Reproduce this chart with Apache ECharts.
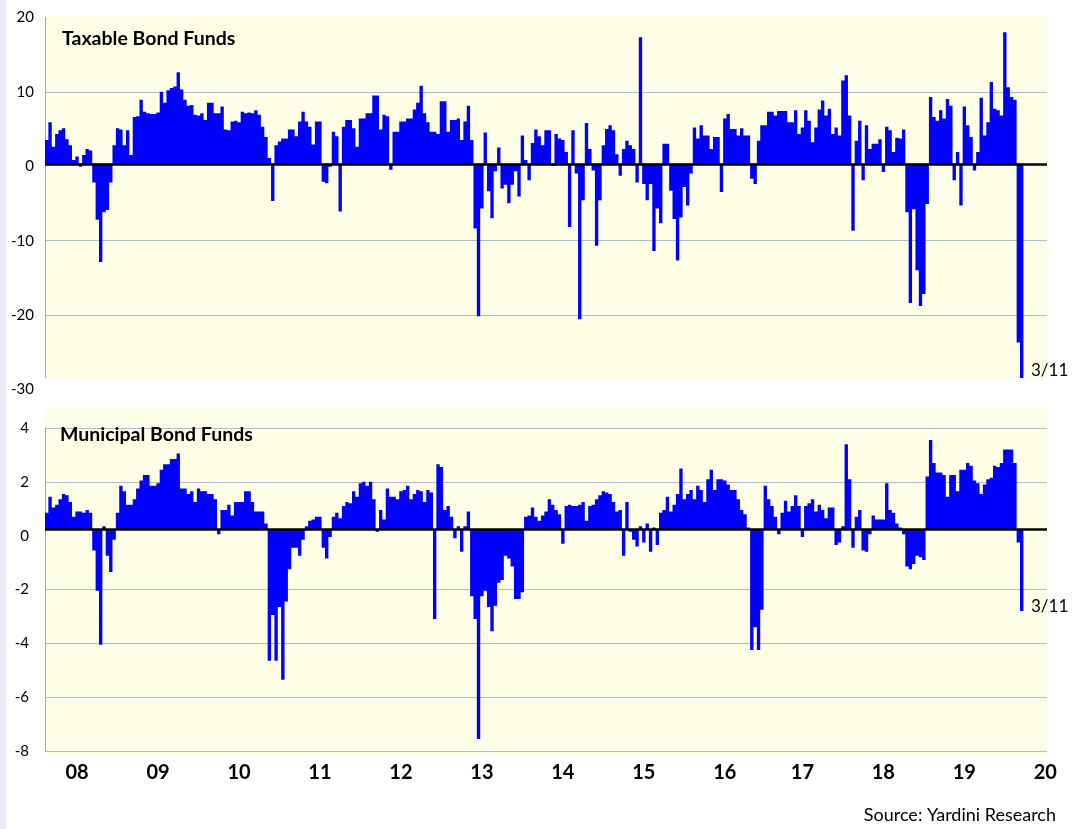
<!DOCTYPE html>
<html>
<head>
<meta charset="utf-8">
<title>Bond Fund Flows</title>
<script src="https://cdn.jsdelivr.net/npm/echarts@6/dist/echarts.min.js"></script>
<style>
  html, body { margin: 0; padding: 0; background: #fff; }
  #main { width: 1081px; height: 829px; }
</style>
</head>
<body>
<div id="main"></div>
<script>
// semi-monthly periods, Feb 2008 .. Mar 11 2020 (last slot = week of 3/11)
const periodStart = [2008, 2, 15];
const periodCount = 297; // data + empty room to the right edge

const yearTicks = ['08', '09', '10', '11', '12', '13', '14', '15', '16', '17', '18', '19', '20'];
const tickDates = ['2008-07-01', '2009-07-01', '2010-07-01', '2011-07-01', '2012-07-01', '2013-07-01',
    '2014-07-01', '2015-07-01', '2016-07-01', '2017-06-15', '2018-06-15', '2019-06-15', '2020-06-15'];

const taxableTicks = [-30, -20, -10, 0, 10, 20];
const muniTicks = [-8, -6, -4, -2, 0, 2, 4];

// Taxable bond funds, billion $
const taxable = [
    // 2008
    3.2, 5.6, 2.3, 4.0, 4.5, 4.8, 3.3, 2.5, 0.5, 1.0, -0.4, 1.2, 2.0, 1.8, -2.5, -7.5, -13.2, -6.5, -6.2, -2.5, 2.5,
    // 2009
    4.8, 4.6, 2.5, 4.5, 1.2, 6.3, 6.4, 8.6, 7.0, 6.8, 6.7, 6.7, 6.9, 9.7, 8.2, 9.9, 10.2, 10.4, 12.3, 10.0, 8.6, 7.8, 7.9, 6.6,
    // 2010
    6.5, 6.8, 5.9, 8.2, 8.2, 6.8, 6.8, 7.7, 4.6, 4.5, 5.7, 5.8, 5.6, 7.0, 6.8, 6.9, 6.8, 7.2, 6.6, 5.0, 3.6, 0.8, -5.0, 2.5,
    // 2011
    3.0, 3.4, 3.4, 4.6, 4.6, 3.7, 5.7, 7.0, 5.7, 5.0, 2.6, 5.7, 5.7, -2.4, -2.6, -0.4, 4.3, 3.7, -6.4, 5.0, 5.9, 5.9, 4.8, 2.3,
    // 2012
    6.1, 6.1, 6.8, 6.8, 9.2, 9.2, 4.6, 6.6, 6.4, -0.8, 4.3, 4.3, 5.7, 5.7, 6.1, 6.1, 7.3, 8.2, 10.5, 6.8, 5.6, 4.3, 4.3, 4.0,
    // 2013
    8.4, 8.4, 4.3, 5.9, 5.9, 6.1, 3.2, 5.7, 7.8, 3.2, -8.7, -20.5, -6.0, 4.2, -3.7, -7.3, -1.0, 2.2, -3.3, -2.8, -5.3, -2.8, -1.0, -4.4,
    // 2014
    3.8, 0.5, -2.2, 2.8, 4.6, 3.7, 2.5, 4.5, 4.5, -0.3, 4.0, 3.4, 3.2, 1.6, -8.5, 4.5, -1.3, -20.9, -4.9, 5.5, 2.0, -0.9, -11.0, -4.9,
    // 2015
    2.5, 4.7, 5.2, 4.5, 1.3, -1.6, 2.0, 3.1, 2.5, 2.0, -2.5, 17.0, -2.7, -4.9, -2.7, -11.7, -6.0, -8.0, 2.7, 2.7, -3.6, -7.4, -13.0, -7.2,
    // 2016
    -3.1, -5.6, -1.3, 4.9, 3.4, 5.2, 3.8, 3.8, 2.0, 3.6, 3.6, -3.8, 6.1, 6.7, 4.7, 4.7, 3.8, 4.8, 3.8, 3.8, -2.0, -2.7, 3.1, 5.2,
    // 2017
    5.2, 7.0, 7.0, 6.5, 7.1, 7.1, 7.1, 5.6, 5.6, 7.2, 4.0, 4.9, 7.2, 5.8, 2.9, 4.9, 7.3, 8.5, 6.5, 7.4, 4.0, 4.9, 3.8, 11.2,
    // 2018
    11.9, 6.5, -9.0, 3.1, 5.8, -2.2, 5.2, 2.0, 2.7, 2.7, 3.3, -1.1, 5.0, 4.5, 1.6, 3.5, 3.4, 4.6, -6.5, -18.7, -6.1, -14.3, -19.1, -17.5,
    // 2019
    -5.4, 9.0, 6.3, 5.8, 7.2, 6.1, 8.7, 7.8, -2.2, 1.6, -5.6, 7.7, 5.2, 3.6, -0.9, 1.6, 8.9, 3.8, 5.6, 11.0, 7.4, 7.2, 6.5, 17.7,
    // 2020
    10.3, 9.0, 8.6, -24.0, -30.0
];

// Municipal bond funds, billion $
const municipal = [
    // 2008
    0.6, 1.2, 0.8, 0.9, 1.1, 1.3, 1.25, 1.0, 0.45, 0.65, 0.65, 0.6, 0.7, 0.6, -0.8, -2.3, -4.3, 0.1, -1.0, -1.6, -0.4,
    // 2009
    0.6, 1.6, 1.4, 0.9, 0.9, 1.1, 1.5, 1.8, 2.0, 2.0, 1.6, 1.6, 1.7, 2.2, 2.4, 2.4, 2.6, 2.6, 2.8, 1.5, 1.5, 1.3, 1.4, 1.0,
    // 2010
    1.5, 1.4, 1.4, 1.3, 1.3, 1.1, -0.2, 0.7, 0.7, 0.9, 0.5, 1.0, 1.0, 1.0, 1.4, 1.4, 1.0, 0.65, 0.65, 0.65, 0.2, -4.9, -3.2, -4.9,
    // 2011
    -2.9, -5.6, -2.7, -1.5, -0.7, -0.7, -1.0, -0.4, 0.1, 0.3, 0.35, 0.45, 0.45, -0.7, -1.1, -0.3, 0.45, 0.6, 0.4, 0.85, 1.0, 0.95, 1.4, 1.2,
    // 2012
    1.7, 1.75, 1.6, 1.75, 1.1, -0.1, 0.7, 0.35, 1.5, 1.2, 1.2, 1.1, 1.4, 1.45, 1.6, 1.1, 1.3, 1.45, 1.4, 1.0, 1.45, 1.35, -3.35, 2.4,
    // 2013
    2.3, 0.7, 0.85, 0.45, -0.35, 0.1, -0.85, 0.1, 0.65, -2.5, -3.35, -7.8, -2.5, -2.3, -2.9, -3.8, -2.85, -2.0, -1.9, -1.0, -1.1, -1.4, -2.6, -2.6,
    // 2014
    -2.35, 0.45, 0.5, 0.8, 0.45, 0.3, 0.5, 0.65, 1.1, 0.9, 0.7, 0.55, -0.55, 0.85, 0.9, 0.85, 0.85, 0.9, 1.0, 0.3, 0.85, 0.9, 1.1, 1.25,
    // 2015
    1.4, 1.35, 1.3, 1.0, 0.65, 0.7, -1.0, 1.0, -0.1, -0.4, -0.65, 0.1, -0.5, 0.2, -0.85, 0.05, -0.6, 0.6, 0.7, 1.2, 0.65, 0.9, 1.3, 2.25,
    // 2016
    1.1, 1.3, 1.45, 1.1, 1.6, 1.45, 1.0, 1.85, 2.2, 1.45, 1.85, 1.85, 1.8, 1.65, 1.45, 1.45, 1.1, 0.7, 0.55, 0.05, -4.5, -3.65, -4.5, -3.0,
    // 2017
    1.6, 1.1, 0.85, 0.45, -0.2, 0.6, 1.05, 0.65, 0.85, 1.25, 0.85, -0.3, 0.85, 0.95, 1.1, 0.65, 0.9, 0.7, 0.4, 0.8, 0.8, -0.6, -0.5, 0.1,
    // 2018
    3.15, 1.85, -0.7, 0.45, 0.7, -0.8, -0.85, -0.2, 0.5, 0.35, 0.35, 0.35, 1.7, 0.7, 0.6, 0.2, 0.05, -0.2, -1.4, -1.5, -1.3, -1.0, -1.05, -1.15,
    // 2019
    1.95, 3.3, 2.45, 2.1, 2.1, 2.0, 1.2, 2.0, 2.0, 1.4, 2.2, 2.2, 2.45, 2.35, 1.8, 1.7, 1.3, 1.65, 1.85, 1.9, 2.35, 2.3, 2.45, 2.95,
    // 2020
    2.95, 2.95, 2.45, -0.5, -3.05
];

const FONT = 'Lato, "Open Sans", sans-serif';
const BLUE = '#0000ff';
const GRIDLINE = '#a9c1cf';
const CREAM = '#fefee6';

function buildPeriods() {
    let out = [];
    let y = periodStart[0], m = periodStart[1], d = periodStart[2];
    while (out.length < periodCount) {
        out.push(y + '-' + String(m).padStart(2, '0') + '-' + String(d).padStart(2, '0'));
        if (d === 1) {
            d = 15;
        } else {
            d = 1;
            m = m + 1;
            if (m > 12) { m = 1; y = y + 1; }
        }
    }
    return out;
}

// zero gridline is replaced by the black baseline
function gridColors(ticks, hidden) {
    return ticks.map(function (t) {
        return hidden.indexOf(t) >= 0 ? 'rgba(0,0,0,0)' : GRIDLINE;
    });
}

function zeroLine() {
    return {
        silent: true,
        symbol: ['none', 'none'],
        label: { show: false },
        lineStyle: { color: '#000', width: 2.5, type: 'solid' },
        data: [{ yAxis: 0 }]
    };
}

function drawChart() {
    let periods = buildPeriods();
    let myChart = echarts.init(document.getElementById('main'));

    let option = {
        backgroundColor: '#fff',
        animation: false,
        textStyle: { fontFamily: FONT },
        grid: [
            { left: 45, right: 34, top: 17.5, height: 372 },
            { left: 45, right: 34, top: 428, height: 323 }
        ],
        xAxis: [
            { type: 'category', gridIndex: 0, data: periods, show: false },
            {
                type: 'category', gridIndex: 1, data: periods,
                axisLine: { show: false },
                axisTick: { show: false },
                axisLabel: {
                    interval: function (index, value) { return tickDates.indexOf(value) >= 0; },
                    formatter: function (value) {
                        let k = tickDates.indexOf(value);
                        return k >= 0 ? yearTicks[k] : '';
                    },
                    color: '#000', fontSize: 20, fontWeight: 'bold', fontFamily: FONT, margin: 12
                }
            }
        ],
        yAxis: [
            {
                type: 'value', gridIndex: 0, min: -30, max: 20, interval: 10,
                axisLine: { show: true, lineStyle: { color: '#a6a6a6', width: 1 } },
                axisTick: { show: false },
                axisLabel: { color: '#000', fontSize: 15, fontFamily: FONT, margin: 11 },
                splitLine: { show: true, lineStyle: { color: gridColors(taxableTicks, [-30, 0, 20]), width: 1 } }
            },
            // bars hang from the black baseline, which sits a bit above the 0 label
            { type: 'value', gridIndex: 0, min: -30.33, max: 19.67, show: false, splitLine: { show: false } },
            {
                type: 'value', gridIndex: 1, min: -8, max: 4, interval: 2,
                axisLine: { show: true, lineStyle: { color: '#a6a6a6', width: 1 } },
                axisTick: { show: false },
                axisLabel: { color: '#000', fontSize: 15, fontFamily: FONT, margin: 16 },
                splitLine: { show: true, lineStyle: { color: gridColors(muniTicks, [0]), width: 1 } }
            },
            { type: 'value', gridIndex: 1, min: -8.25, max: 3.75, show: false, splitLine: { show: false } }
        ],
        series: [
            {
                // large mode strokes all bars as one path, so neighbouring bars join without seams
                name: 'Taxable Bond Funds', type: 'bar', xAxisIndex: 0, yAxisIndex: 1,
                data: taxable, barCategoryGap: '0%', large: true, largeThreshold: 50,
                itemStyle: { color: BLUE },
                markLine: zeroLine()
            },
            {
                name: 'Municipal Bond Funds', type: 'bar', xAxisIndex: 1, yAxisIndex: 3,
                data: municipal, barCategoryGap: '0%', large: true, largeThreshold: 50,
                itemStyle: { color: BLUE },
                markLine: zeroLine()
            }
        ],
        graphic: [
            { type: 'rect', z: -10, shape: { x: 0, y: 0, width: 6, height: 829 }, style: { fill: '#e9edf6' } },
            { type: 'rect', z: -10, shape: { x: 45, y: 16, width: 1002, height: 362 }, style: { fill: CREAM } },
            { type: 'rect', z: -10, shape: { x: 45, y: 409, width: 1002, height: 347 }, style: { fill: CREAM } },
            // top panel is cut off just above -30
            { type: 'rect', z: 100, shape: { x: 43, y: 378, width: 1012, height: 13 }, style: { fill: '#fff' } },
            {
                type: 'text', z: 101,
                style: { text: 'Taxable Bond Funds', x: 62, y: 39, textVerticalAlign: 'middle', fill: '#000', font: 'bold 19.5px ' + FONT }
            },
            {
                type: 'text', z: 101,
                style: { text: 'Municipal Bond Funds', x: 60, y: 435, textVerticalAlign: 'middle', fill: '#000', font: 'bold 19.5px ' + FONT }
            },
            {
                type: 'text', z: 101,
                style: { text: '3/11', x: 1031, y: 371, textVerticalAlign: 'middle', fill: '#000', font: '17px ' + FONT }
            },
            {
                type: 'text', z: 101,
                style: { text: '3/11', x: 1031, y: 607, textVerticalAlign: 'middle', fill: '#000', font: '17px ' + FONT }
            },
            {
                type: 'text', z: 101,
                style: { text: 'Source: Yardini Research', x: 1056, y: 815, textAlign: 'right', textVerticalAlign: 'middle', fill: '#000', font: '18px ' + FONT }
            }
        ]
    };

    myChart.setOption(option);
}

drawChart();
</script>
</body>
</html>
